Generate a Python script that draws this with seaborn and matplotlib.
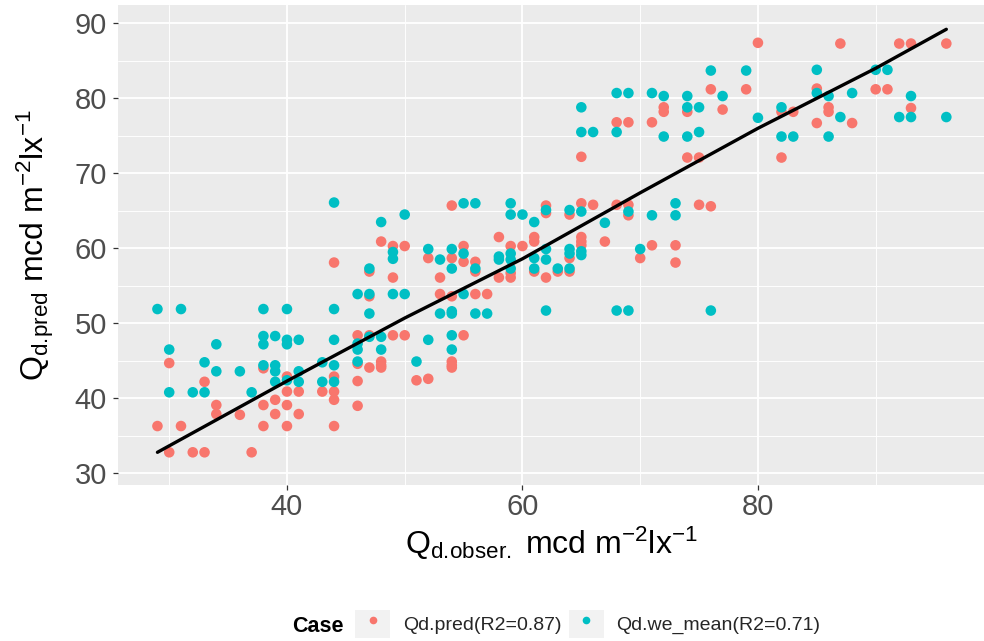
import matplotlib
matplotlib.use("Agg")
import numpy as np
import pandas as pd
import matplotlib.pyplot as plt
import seaborn as sns
from matplotlib.lines import Line2D
from matplotlib.patches import Rectangle
from matplotlib.legend_handler import HandlerLine2D
from matplotlib.ticker import FixedLocator

# ---------------- data ----------------
pred_obs = [29, 30, 30, 31, 32, 33, 33, 34, 34, 36, 37, 38, 38, 38, 39, 39,
            40, 40, 40, 40, 41, 41, 43, 44, 44, 44, 44, 44, 46, 46, 46, 46,
            47, 47, 47, 47, 48, 48, 48, 48, 49, 49, 49, 50, 50, 51, 52, 52,
            53, 53, 54, 54, 54, 54, 54, 54, 55, 55, 55, 56, 56, 56, 57, 58, 58,
            59, 59, 59, 60, 61, 61, 61, 62, 62, 62, 63, 64, 64, 64,
            65, 65, 65, 65, 65, 66, 67, 68, 68, 69, 69, 69, 70, 71, 71, 72, 72,
            73, 73, 74, 74, 75, 75, 76, 76, 77, 79, 80, 82, 82, 83, 85, 85,
            86, 86, 87, 88, 90, 91, 92, 93, 93, 96]
pred_val = [36.3, 44.7, 32.8, 36.3, 32.8, 42.2, 32.8, 39.1, 37.9, 37.8, 32.8, 44.0, 39.1, 36.3, 39.8, 37.9,
            42.9, 40.9, 39.1, 36.3, 40.9, 37.9, 40.9, 58.1, 42.9, 40.9, 39.8, 36.3, 48.4, 44.6, 42.3, 39.0,
            56.9, 53.6, 48.4, 44.1, 60.9, 44.9, 44.4, 44.1, 60.3, 56.1, 48.4, 60.3, 48.4, 42.4, 58.7, 42.6,
            56.1, 53.9, 65.7, 58.7, 53.6, 44.9, 44.4, 44.1, 60.3, 58.2, 48.4, 58.2, 56.9, 53.9, 53.9, 61.5, 56.1,
            60.3, 56.7, 56.1, 60.3, 61.5, 60.9, 56.9, 65.7, 64.7, 56.1, 56.9, 64.5, 58.7, 56.9,
            72.2, 66.0, 61.5, 60.9, 60.4, 65.8, 60.9, 76.8, 65.8, 76.8, 65.8, 64.4, 58.7, 76.8, 60.4, 78.8, 78.2,
            60.4, 58.1, 78.2, 72.1, 72.1, 65.8, 81.2, 65.6, 78.5, 81.2, 87.4, 78.2, 72.1, 78.2, 81.3, 76.7,
            78.8, 78.2, 87.3, 76.7, 81.2, 81.2, 87.3, 87.3, 78.7, 87.3]

mean_obs = [29, 30, 30, 31, 32, 33, 33, 34, 34, 36, 37, 38, 38, 38, 38, 39, 39, 39, 39,
            40, 40, 40, 40, 41, 41, 41, 43, 43, 44, 44, 44, 44, 44, 46, 46, 46, 46,
            47, 47, 47, 47, 48, 48, 48, 49, 49, 49, 50, 50, 51, 52, 52, 53, 53,
            54, 54, 54, 54, 54, 54, 55, 55, 55, 56, 56, 56, 57, 58, 58,
            59, 59, 59, 59, 59, 60, 61, 61, 61, 62, 62, 62, 62, 63, 64, 64, 64, 64,
            65, 65, 65, 65, 65, 66, 67, 68, 68, 68, 69, 69, 69, 70, 71, 71, 72, 72,
            73, 73, 74, 74, 74, 75, 75, 76, 76, 77, 79, 80, 82, 82, 83, 85, 85,
            86, 86, 87, 88, 90, 91, 92, 93, 93, 96]
mean_val = [51.9, 46.5, 40.8, 51.9, 40.8, 44.8, 40.8, 47.2, 43.6, 43.6, 40.8, 51.9, 48.3, 47.2, 44.4, 48.3, 44.4, 43.6, 42.2,
            51.9, 47.8, 47.2, 42.4, 47.8, 43.6, 42.2, 44.8, 42.2, 66.1, 51.9, 47.8, 44.4, 42.2, 53.9, 47.3, 46.5, 44.9,
            57.3, 53.9, 51.3, 48.2, 63.5, 48.2, 46.5, 59.5, 58.6, 53.9, 64.5, 53.9, 44.9, 59.9, 47.8, 58.5, 51.3,
            59.9, 57.3, 51.6, 51.3, 48.4, 46.5, 66.0, 59.3, 53.9, 66.0, 57.3, 51.3, 51.3, 58.9, 58.5,
            66.0, 64.5, 59.3, 58.5, 57.3, 64.5, 63.5, 58.7, 57.3, 65.1, 59.9, 58.5, 51.7, 57.3, 65.1, 59.9, 59.3, 57.3,
            78.8, 75.5, 64.9, 59.6, 59.1, 75.5, 63.4, 80.7, 75.5, 51.7, 80.7, 64.9, 51.7, 59.9, 80.7, 64.4, 80.3, 74.9,
            66.0, 64.4, 80.3, 78.8, 74.9, 78.8, 75.5, 83.7, 51.7, 80.3, 83.7, 77.4, 78.8, 74.9, 74.9, 83.8, 80.7,
            80.3, 74.9, 77.5, 80.7, 83.8, 83.8, 77.5, 80.3, 77.5, 77.5]

fit_x = [29, 40, 50, 60, 70, 80, 90, 96]
fit_y = [32.8, 42.3, 50.7, 58.6, 67.4, 76.0, 84.0, 89.2]

case_labels = ["Qd.pred(R2=0.87)", "Qd.we_mean(R2=0.71)"]
case_colors = ["#F8766D", "#00BFC4"]
x_major = [40, 60, 80]
x_minor = [30, 50, 70, 90]
y_major = [30, 40, 50, 60, 70, 80, 90]
y_minor = [35, 45, 55, 65, 75, 85]

# ---------------- style ----------------
sns.set_theme(style="darkgrid")
plt.rcParams["font.family"] = ["Liberation Sans", "DejaVu Sans"]
plt.rcParams["mathtext.fontset"] = "custom"
plt.rcParams["mathtext.rm"] = "Liberation Sans"
plt.rcParams["mathtext.it"] = "Liberation Sans:italic"
plt.rcParams["mathtext.bf"] = "Liberation Sans:bold"

df = pd.DataFrame({
    "obs": pred_obs + mean_obs,
    "val": pred_val + mean_val,
    "Case": [case_labels[0]] * len(pred_obs) + [case_labels[1]] * len(mean_obs),
})
fit_df = pd.DataFrame({"x": fit_x, "y": fit_y})

W, H = 984, 641
fig = plt.figure(figsize=(W / 100, H / 100), dpi=100)
fig.patch.set_facecolor("white")
left, right, top, bottom = 118, 984, 5, 485
ax = fig.add_axes([left / W, 1 - bottom / H, (right - left) / W, (bottom - top) / H])
ax.set_facecolor("#EBEBEB")

sns.scatterplot(data=df, x="obs", y="val", hue="Case", hue_order=case_labels,
                palette=case_colors, s=58, linewidth=0, legend=False, ax=ax, zorder=3)
sns.lineplot(data=fit_df, x="x", y="y", color="black", linewidth=2.4, ax=ax, zorder=4)

ax.set_xlim(25.65, 99.2)
ax.set_ylim(28.44, 92.44)
ax.xaxis.set_major_locator(FixedLocator(x_major))
ax.xaxis.set_minor_locator(FixedLocator(x_minor))
ax.yaxis.set_major_locator(FixedLocator(y_major))
ax.yaxis.set_minor_locator(FixedLocator(y_minor))
ax.grid(which="major", color="white", linewidth=1.3)
ax.grid(which="minor", color="white", linewidth=0.65)
ax.set_axisbelow(True)
for s in ax.spines.values():
    s.set_visible(False)
ax.tick_params(which="major", length=3.5, width=0.9, color="#333333",
               labelcolor="#4D4D4D", labelsize=21, bottom=True, left=True)
ax.tick_params(axis="y", which="major", pad=4.5)
ax.tick_params(axis="x", which="major", pad=2.5)
ax.tick_params(which="minor", length=0)

ax.set_xlabel(r"$\mathregular{Q_{d.\!obser.}\ mcd\ m^{-2}lx^{-1}}$", fontsize=23, color="black")
ax.set_ylabel(r"$\mathregular{Q_{d.\!pred}\ mcd\ m^{-2}lx^{-1}}$", fontsize=23, color="black")
ax.xaxis.set_label_coords(0.5, -0.083)
ax.yaxis.set_label_coords(-0.072, 0.5)


class KeyBG(HandlerLine2D):
    def create_artists(self, legend, orig_handle, xdescent, ydescent,
                       width, height, fontsize, trans):
        rect = Rectangle((-xdescent, -ydescent), width, height,
                         facecolor="#F2F2F2", edgecolor="none", transform=trans)
        arts = super().create_artists(legend, orig_handle, xdescent, ydescent,
                                      width, height, fontsize, trans)
        return [rect] + list(arts)


handles = [Line2D([], [], marker="o", linestyle="none", color=c,
                  markersize=5.5, markeredgewidth=0) for c in case_colors]
fig.legend(handles, case_labels, loc="center left",
           bbox_to_anchor=(355 / W, 1 - 624 / H), ncol=2, frameon=False,
           fontsize=14, handler_map={Line2D: KeyBG()}, handlelength=1.8,
           handleheight=1.8, handletextpad=0.65, columnspacing=0.4,
           borderpad=0, borderaxespad=0)
fig.text(344 / W, 1 - 626 / H, "Case", ha="right", va="center",
         fontsize=15.5, fontweight="bold", color="black")

fig.savefig("out.png", dpi=100)
